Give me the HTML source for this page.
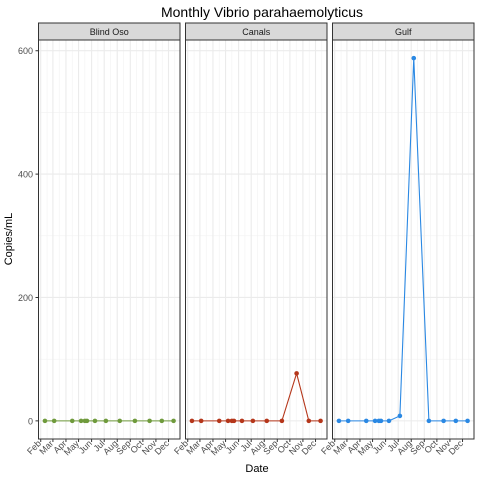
<!DOCTYPE html>
<html><head><meta charset="utf-8"><style>
body{margin:0;background:#fff}svg{display:block;font-family:"Liberation Sans",sans-serif}
</style></head><body>
<svg id="c" width="480" height="480"></svg>
<script>
const panels=["Blind Oso","Canals","Gulf"];
const colors=["#6f9a3c","#b5361a","#2a88e3"];
const dates=["2000-02-11","2000-03-04","2000-04-16","2000-05-07","2000-05-16","2000-05-21","2000-06-09","2000-07-05","2000-08-07","2000-09-12","2000-10-17","2000-11-15","2000-12-13"];
const blindOso=[0,0,0,0,0,0,0,0,0,0,0,0,0];
const canals=[0,0,0,0,0,0,0,0,0,0,77,0,0];
const gulf=[0,0,0,0,0,0,0,8,588,0,0,0,0];
const yTicks=[0,200,400,600];
const monthLabels=["Feb","Mar","Apr","May","Jun","Jul","Aug","Sep","Oct","Nov","Dec"];
const series=[blindOso,canals,gulf];
const NS="http://www.w3.org/2000/svg",svgEl=document.getElementById('c');
function el(t,a,p){const e=document.createElementNS(NS,t);for(const k in a)e.setAttribute(k,a[k]);(p||svgEl).appendChild(e);return e;}
const day=s=>(new Date(s+"T00:00:00Z")-new Date("2000-01-01T00:00:00Z"))/864e5;
const dd=dates.map(day),dmin=Math.min(...dd),dmax=Math.max(...dd),dpad=(dmax-dmin)*0.05;
const allY=[].concat(...series),ymax=Math.max(...allY),ymin=Math.min(...allY),ypad=(ymax-ymin)*0.05;
const plotTop=40,plotBot=439;
const yS=v=>plotBot-(v-(ymin-ypad))/((ymax+ypad)-(ymin-ypad))*(plotBot-plotTop);
const lefts=[38.5,185.5,332.5],W=141.5;
const t=el('text',{x:262,y:17,'text-anchor':'middle','font-size':14,fill:'#000'});t.textContent="Monthly Vibrio parahaemolyticus";


yTicks.forEach(v=>{el('line',{x1:35.5,x2:38.5,y1:yS(v),y2:yS(v),stroke:'#333'});
 const l=el('text',{x:33,y:yS(v)+3.5,'text-anchor':'end','font-size':9,fill:'#4d4d4d'});l.textContent=v;
 
 });
const yt=el('text',{transform:'translate(12,239) rotate(-90)','text-anchor':'middle','font-size':11,fill:'#000'});yt.textContent="Copies/mL";


const xt=el('text',{x:257,y:472,'text-anchor':'middle','font-size':11,fill:'#000'});xt.textContent="Date";


panels.forEach((name,i)=>{
 const L=lefts[i];
 const xS=d=>L+(d-(dmin-dpad))/((dmax+dpad)-(dmin-dpad))*W;
 const g=el('g',{});
 
 
 for(let k=0;k<yTicks.length-1;k++){const v=(yTicks[k]+yTicks[k+1])/2;el('line',{x1:L,x2:L+W,y1:yS(v),y2:yS(v),stroke:'#f2f2f2','stroke-width':0.6},g);}
 monthLabels.forEach((m,j)=>{const d0=day("2000-"+String(j+2).padStart(2,'0')+"-01");
   const mid=d0+15;if(xS(mid)<L+W)el('line',{x1:xS(mid),x2:xS(mid),y1:plotTop,y2:plotBot,stroke:'#f2f2f2','stroke-width':0.6},g);});
 yTicks.forEach(v=>el('line',{x1:L,x2:L+W,y1:yS(v),y2:yS(v),stroke:'#ebebeb','stroke-width':1.1},g));
 monthLabels.forEach((m,j)=>{const d0=day("2000-"+String(j+2).padStart(2,'0')+"-01"),X=xS(d0);
   el('line',{x1:X,x2:X,y1:plotTop,y2:plotBot,stroke:'#ebebeb','stroke-width':1.1},g);
   el('line',{x1:X,x2:X,y1:plotBot,y2:plotBot+3,stroke:'#333'},g);
   const l=el('text',{transform:`translate(${X+1},${plotBot+5}) rotate(-45)`,'text-anchor':'end','font-size':9,fill:'#4d4d4d'},g);l.textContent=m;
   
   });
 el('rect',{x:L,y:plotTop,width:W,height:plotBot-plotTop,fill:'none',stroke:'#333','stroke-width':1},g);
 const s=el('rect',{x:L,y:23,width:W,height:17,fill:'#d9d9d9',stroke:'#333','stroke-width':1},g);
 
 
 const st=el('text',{x:L+W/2,y:35,'text-anchor':'middle','font-size':9,fill:'#1a1a1a'},g);st.textContent=name;
 
 
 const vals=series[i];
 const pl=el('polyline',{points:vals.map((v,k)=>xS(dd[k])+','+yS(v)).join(' '),fill:'none',stroke:colors[i],'stroke-width':1.1},g);
 
 
 vals.forEach((v,k)=>{const c=el('circle',{cx:xS(dd[k]),cy:yS(v),r:2.3,fill:colors[i]},g);
   
   });
});
</script></body></html>
